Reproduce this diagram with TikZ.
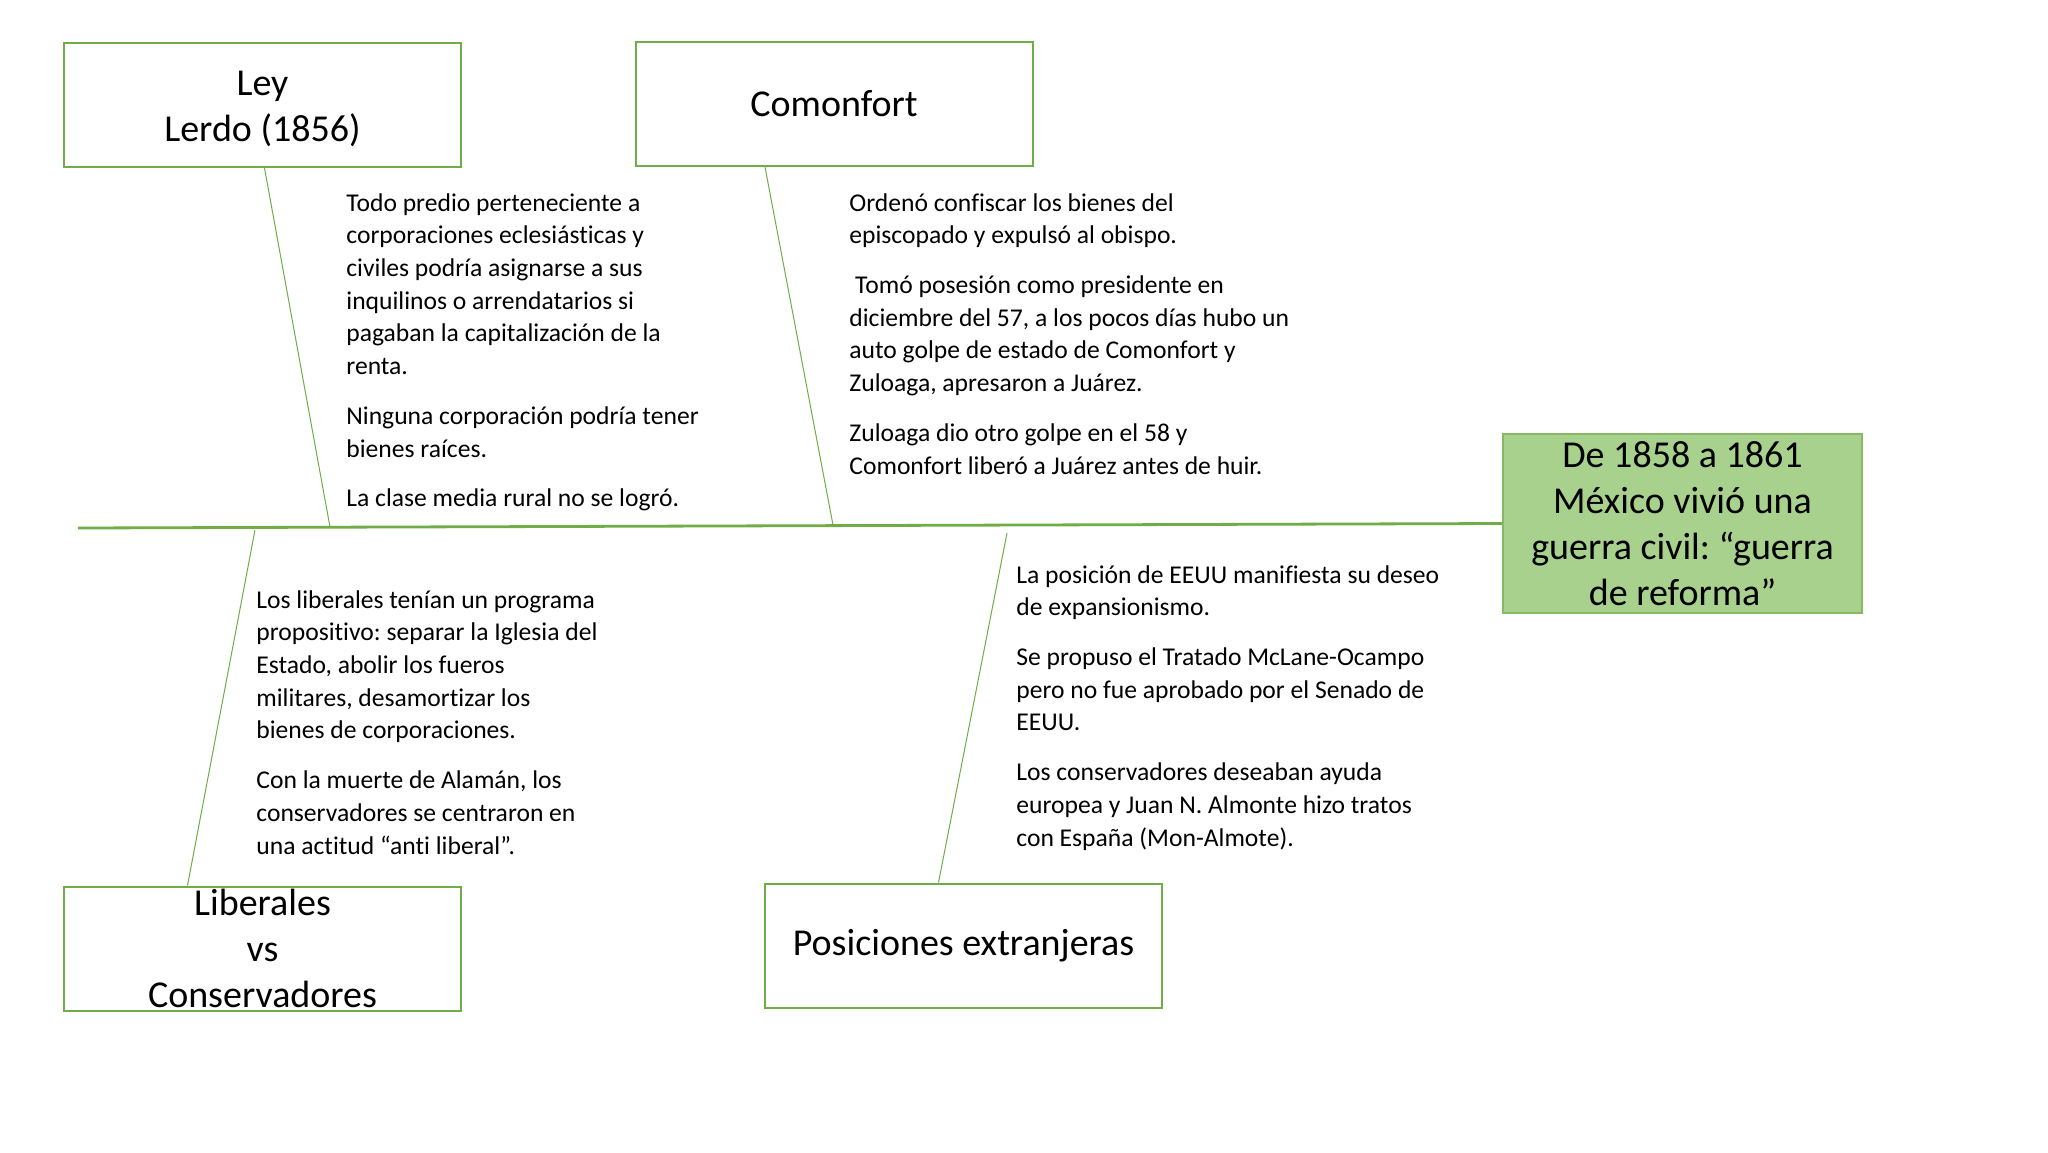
\documentclass[tikz,border=0pt]{standalone}
\usepackage{fontspec}
\setmainfont{Carlito}[Ligatures=NoCommon]
\frenchspacing
\usetikzlibrary{positioning, calc}
\definecolor{fishgreen}{RGB}{112,173,71}
\definecolor{headgreen}{RGB}{169,209,142}

\begin{document}
\begin{tikzpicture}[
  x=0.5pt, y=-0.5pt,
  topic/.style={draw=fishgreen, line width=1pt, fill=white, inner sep=0pt,
              minimum width=198.5pt, minimum height=62pt,
              align=center, font=\fontsize{19}{23}\selectfont},
  headbox/.style={draw=fishgreen!85, line width=0.8pt, fill=headgreen, inner sep=0pt,
              minimum width=179.5pt, minimum height=89.5pt,
              align=center, font=\fontsize{19}{23}\selectfont},
  notes/.style={anchor=north west, inner sep=0pt, align=left,
              font=\fontsize{12.8}{16.35}\selectfont},
  spine/.style={draw=fishgreen, line width=1.4pt},
  bone/.style={draw=fishgreen, line width=0.5pt},
]
\useasboundingbox[fill=white] (0,0) rectangle (2048,1152);

% ── Cabeza y espina ──────────────────────────────────────────
\node[headbox] (head) at (1682.5, 523.5)
  {De 1858 a 1861\\México vivió una\\guerra civil: “guerra\\de reforma”};
\coordinate (tail) at (78, 528);
\draw[spine] (tail) -- (head.west);

% ── Arriba ───────────────────────────────────────────────────
\node[topic] (lerdo) at (262.5, 105)
  {\raisebox{-2pt}[\height][\depth]{Ley}\\\raisebox{-2pt}[\height][\depth]{Lerdo (1856)}};
\node[topic] (comonfort) at (834, 104) {Comonfort};

\coordinate (jLerdo) at (330, 527);
\coordinate (jComonfort) at (833, 525);
\draw[bone] ($(lerdo.south)+(2,0)$) -- (jLerdo);
\draw[bone] ($(comonfort.south)+(-69,0)$) -- (jComonfort);

\node[notes] (lerdotxt) at (346, 193)
  {Todo predio perteneciente a\\
   corporaciones eclesiásticas y\\
   civiles podría asignarse a sus\\
   inquilinos o arrendatarios si\\
   pagaban la capitalización de la\\
   renta.\\[8.5pt]
   Ninguna corporación podría tener\\
   bienes raíces.\\[8.5pt]
   La clase media rural no se logró.};

\node[notes] (comonfortxt) at (849, 193)
  {Ordenó confiscar los bienes del\\
   episcopado y expulsó al obispo.\\[8.5pt]
   \ Tomó posesión como presidente en\\
   diciembre del 57, a los pocos días hubo un\\
   auto golpe de estado de Comonfort y\\
   Zuloaga, apresaron a Juárez.\\[8.5pt]
   Zuloaga dio otro golpe en el 58 y\\
   Comonfort liberó a Juárez antes de huir.};

% ── Abajo ────────────────────────────────────────────────────
\node[topic] (liberales) at (262.5, 948.5) {Liberales\\vs\\Conservadores};
\node[topic] (extranjeras) at (963.5, 945.5) {Posiciones extranjeras};

\coordinate (jLiberales) at (255, 530);
\coordinate (jExtranjeras) at (1007, 533);
\draw[bone] (jLiberales) -- ($(liberales.north)+(-75,0)$);
\draw[bone] (jExtranjeras) -- ($(extranjeras.north)+(-25,0)$);

\node[notes] (liberalestxt) at (256, 590)
  {Los liberales tenían un programa\\
   propositivo: separar la Iglesia del\\
   Estado, abolir los fueros\\
   militares, desamortizar los\\
   bienes de corporaciones.\\[8.5pt]
   Con la muerte de Alamán, los\\
   conservadores se centraron en\\
   una actitud “anti liberal”.};

\node[notes] (extranjerastxt) at (1016, 565)
  {La posición de EEUU manifiesta su deseo\\
   de expansionismo.\\[8.5pt]
   Se propuso el Tratado McLane-Ocampo\\
   pero no fue aprobado por el Senado de\\
   EEUU.\\[8.5pt]
   Los conservadores deseaban ayuda\\
   europea y Juan N. Almonte hizo tratos\\
   con España (Mon-Almote).};

\end{tikzpicture}
\end{document}
